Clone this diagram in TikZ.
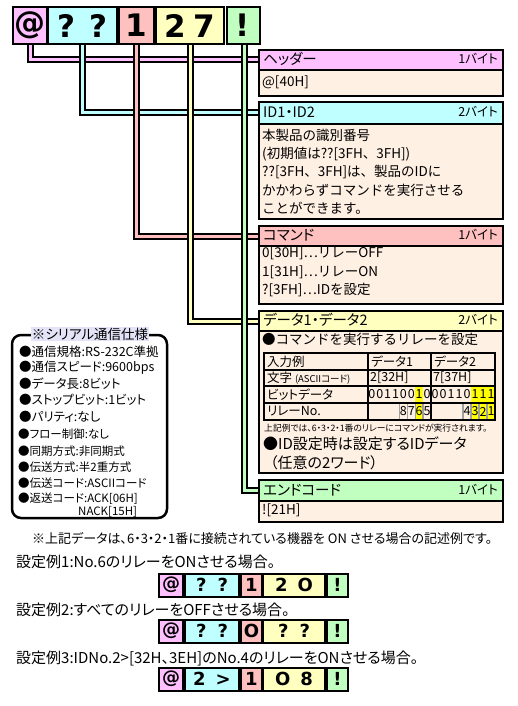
\documentclass[tikz,border=0pt]{standalone}
\usepackage{fontspec}
\setmainfont{Noto Sans CJK JP}
\newfontfamily\pfont{Noto Sans CJK JP}[RawFeature=+palt]
\newfontfamily\heavy{DejaVu Sans}[UprightFont={* Bold}]
\definecolor{cpink}{HTML}{FFC0FF}
\definecolor{ccyan}{HTML}{C0FFFF}
\definecolor{csalmon}{HTML}{FFC0C0}
\definecolor{cyel}{HTML}{FFFFC0}
\definecolor{cgreen}{HTML}{C0FFC0}
\definecolor{cbody}{HTML}{FFF0E4}
\definecolor{clav}{HTML}{E4E4F8}
\definecolor{chl}{HTML}{FFFF00}
\definecolor{cgray}{HTML}{A0A0A0}
\pgfdeclarelayer{bg}
\pgfsetlayers{bg,main}
\tikzset{
 tbox/.style={draw, line width=2pt, inner sep=0pt, minimum height=37pt, font=\heavy\fontsize{31}{31}\selectfont},
 ebox/.style={draw, line width=2pt, inner sep=0pt, minimum height=23pt, font=\heavy\fontsize{18}{18}\selectfont},
 band/.style={draw, line width=2pt, inner sep=0pt, anchor=north west, minimum width=244pt},
 ttl/.style={anchor=west, inner sep=0pt, font=\pfont\fontsize{14.5}{14.5}\selectfont},
 byt/.style={anchor=east, inner sep=0pt, font=\pfont\fontsize{12.5}{12.5}\selectfont},
 bod/.style={anchor=west, inner sep=0pt, font=\fontsize{13.5}{13.5}\selectfont},
 tab/.style={anchor=west, inner sep=0pt, font=\pfont\fontsize{12.5}{12.5}\selectfont},
 bit/.style={inner sep=0pt, font=\pfont\fontsize{12.5}{12.5}\selectfont},
 spec/.style={anchor=west, inner sep=0pt, font=\pfont\fontsize{12.5}{12.5}\selectfont},
 specs/.style={anchor=west, inner sep=0pt, font=\pfont\fontsize{11.5}{11.5}\selectfont},
 note/.style={anchor=west, inner sep=0pt, font=\pfont\fontsize{13}{13}\selectfont},
 exl/.style={anchor=west, inner sep=0pt, font=\pfont\fontsize{15}{15}\selectfont},
 pipeo/.style={line width=7pt, black, line join=miter},
 pipei/.style={line width=3pt, line join=miter},
}
\begin{document}
\begin{tikzpicture}[x=1pt,y=-1pt]
\begin{pgfonlayer}{bg}
\fill[white] (0,0) rectangle (517,706);
\end{pgfonlayer}
\useasboundingbox (0,0) rectangle (517,706);
% top command boxes
\node[tbox, fill=cpink, minimum width=34pt] (tA) at (30,25.5) {@};
\node[tbox, fill=ccyan, minimum width=69pt] (tB) at (82.5,25.5) {?\hspace{14pt}?};
\node[tbox, fill=csalmon, minimum width=35pt] (tC) at (136.5,25.5) {1};
\node[tbox, fill=cyel, minimum width=68pt] (tD) at (190,25.5) {2\hspace{7pt}7};
\node[tbox, fill=cgreen, minimum width=33pt] (tE) at (243,25.5) {!};
% right boxes
\node[band, fill=cbody, minimum height=26pt] (hB) at (258,69) {};
\node[band, fill=cpink, minimum height=20pt] (hT) at (258,49) {};
\node[band, fill=cbody, minimum height=95pt] (iB) at (258,123) {};
\node[band, fill=ccyan, minimum height=22pt] (iT) at (258,101) {};
\node[band, fill=cbody, minimum height=58pt] (cB) at (258,245) {};
\node[band, fill=csalmon, minimum height=20pt] (cT) at (258,225) {};
\node[band, fill=cbody, minimum height=142pt] (dB) at (258,330) {};
\node[band, fill=cyel, minimum height=20pt] (dT) at (258,310) {};
\node[band, fill=cbody, minimum height=21pt] (eB) at (258,500) {};
\node[band, fill=cgreen, minimum height=21pt] (eT) at (258,479) {};
% pipes
\begin{pgfonlayer}{bg}
\draw[pipeo] (tA.south) |- (hT.west); \draw[pipei, cpink] (tA.south) |- (hT.west);
\draw[pipeo] (tB.south) |- (iT.west); \draw[pipei, ccyan] (tB.south) |- (iT.west);
\draw[pipeo] (tC.south) |- (cT.west); \draw[pipei, csalmon] (tC.south) |- (cT.west);
\draw[pipeo] (tD.south) |- (dT.west); \draw[pipei, cyel] (tD.south) |- (dT.west);
\draw[pipeo] ([xshift=1pt]tE.south) |- (eT.west); \draw[pipei, cgreen] ([xshift=1pt]tE.south) |- (eT.west);
\end{pgfonlayer}
% header
\node[ttl] (hTt) at (263,59) {ヘッダー};
\node[byt] (hTb) at (498,59) {1バイト};
\node[bod] (hB1) at (262,82) {@[40H]};
% ID
\node[ttl] (iTt) at (263,112) {ID1・ID2};
\node[byt] (iTb) at (498,112) {2バイト};
\node[bod] (iB1) at (262,135) {本製品の識別番号};
\node[bod] (iB2) at (262,154) {(初期値は??[3FH、3FH])};
\node[bod] (iB3) at (262,172) {??[3FH、3FH]は、製品のIDに};
\node[bod] (iB4) at (262,190) {かかわらずコマンドを実行させる};
\node[bod] (iB5) at (262,208) {ことができます。};
% command
\node[ttl] (cTt) at (263,235) {コマンド};
\node[byt] (cTb) at (498,235) {1バイト};
\node[bod] (cB1) at (262,253) {0[30H]…リレーOFF};
\node[bod] (cB2) at (262,272) {1[31H]…リレーON};
\node[bod] (cB3) at (262,290) {?[3FH]…IDを設定};
% data
\node[ttl] (dTt) at (263,320) {データ1・データ2};
\node[byt] (dTb) at (498,320) {2バイト};
\node[bod] (dB1) at (262,339) {●コマンドを実行するリレーを設定};
% table highlights
\fill[chl] (415.25,386) rectangle (423.125,420);
\fill[chl] (471,386) rectangle (495,420);
\foreach \k in {4,5,6,7} {
  \draw[cgray, line width=1.5pt] ({368+\k*7.875},403) -- ++(0,17);
  \draw[cgray, line width=1.5pt] ({431+\k*8},403) -- ++(0,17);
}
\draw[line width=2pt] (264,353) rectangle (495,420);
\draw[line width=1.5pt] (264,370) -- (495,370) (264,386) -- (495,386) (264,403) -- (495,403);
\draw[line width=1.5pt] (368,353) -- (368,420) (431,353) -- (431,420);
\node[tab] (r1a) at (267,361.5) {入力例};
\node[tab] (r1b) at (371,361.5) {データ1};
\node[tab] (r1c) at (434,361.5) {データ2};
\node[tab] (r2a) at (267,378) {文字 {\fontsize{9.5}{9.5}\selectfont(ASCIIコード)}};
\node[tab] (r2b) at (370,378) {2[32H]};
\node[tab] (r2c) at (433,378) {7[37H]};
\node[tab] (r3a) at (267,394.5) {ビットデータ};
\node[tab] (r4a) at (267,411.5) {リレーNo.};
\foreach \d [count=\i from 0] in {0,0,1,1,0,0,1,0}
  \node[bit] (ba\i) at ({368+(\i+0.5)*7.875},394.5) {\d};
\foreach \d [count=\i from 0] in {0,0,1,1,0,1,1,1}
  \node[bit] (bb\i) at ({431+(\i+0.5)*8},394.5) {\d};
\foreach \d [count=\i from 4] in {8,7,6,5}
  \node[bit] (ra\i) at ({368+(\i+0.5)*7.875},411.5) {\d};
\foreach \d [count=\i from 4] in {4,3,2,1}
  \node[bit] (rb\i) at ({431+(\i+0.5)*8},411.5) {\d};
\node[anchor=west, inner sep=0pt, font=\pfont\fontsize{8.8}{8.8}\selectfont] (dNote) at (264,428) {上記例では、6・3・2・1番のリレーにコマンドが実行されます。};
\node[anchor=west, inner sep=0pt, font=\pfont\fontsize{15}{15}\selectfont] (dB2) at (263,444) {●ID設定時は設定するIDデータ};
\node[anchor=west, inner sep=0pt, font=\pfont\fontsize{15}{15}\selectfont] (dB3) at (270,463) {（任意の2ワード）};
% end code
\node[ttl] (eTt) at (263,490) {エンドコード};
\node[byt] (eTb) at (498,490) {1バイト};
\node[bod] (eB1) at (262,510.5) {![21H]};
% serial spec
\draw[line width=2.5pt, rounded corners=9pt] (12,335) rectangle (167,518);
\node[fill=clav, inner sep=1pt, font=\pfont\fontsize{13.5}{13.5}\selectfont] (specT) at (90,334) {※シリアル通信仕様};
\node[spec] (s1) at (19,352) {●通信規格:RS-232C準拠};
\node[spec] (s2) at (19,368) {●通信スピード:9600bps};
\node[spec] (s3) at (19,384) {●データ長:8ビット};
\node[spec] (s4) at (19,400) {●ストップビット:1ビット};
\node[spec] (s5) at (19,417) {●パリティ:なし};
\node[specs] (s6) at (18,434) {●フロー制御:なし};
\node[specs] (s7) at (18,451) {●同期方式:非同期式};
\node[specs] (s8) at (18,467) {●伝送方式:半2重方式};
\node[specs] (s9) at (18,483) {●伝送コード:ASCIIコード};
\node[specs] (s10) at (18,499) {●返送コード:ACK[06H]};
\node[specs] (s11) at (78,512) {NACK[15H]};
% examples
\node[note] (n0) at (32,539) {※上記データは、6・3・2・1番に接続されている機器を ON させる場合の記述例です。};
\node[exl] (x1) at (16,562) {設定例1:No.6のリレーをONさせる場合。};
\node[ebox, fill=cpink, minimum width=24pt] (x1a) at (171,585) {@};
\node[ebox, fill=ccyan, minimum width=54pt] (x1b) at (212,585) {?\hspace{11pt}?};
\node[ebox, fill=csalmon, minimum width=21pt] (x1c) at (251.5,585) {1};
\node[ebox, fill=cyel, minimum width=62pt] (x1d) at (294,585) {2\hspace{10pt}O};
\node[ebox, fill=cgreen, minimum width=21pt] (x1e) at (337.5,585) {!};
\node[exl] (x2) at (16,610) {設定例2:すべてのリレーをOFFさせる場合。};
\node[ebox, fill=cpink, minimum width=24pt] (x2a) at (171,631) {@};
\node[ebox, fill=ccyan, minimum width=54pt] (x2b) at (212,631) {?\hspace{11pt}?};
\node[ebox, fill=csalmon, minimum width=21pt] (x2c) at (251.5,631) {O};
\node[ebox, fill=cyel, minimum width=62pt] (x2d) at (294,631) {?\hspace{11pt}?};
\node[ebox, fill=cgreen, minimum width=21pt] (x2e) at (337.5,631) {!};
\node[exl] (x3) at (16,658) {設定例3:IDNo.2>[32H、3EH]のNo.4のリレーをONさせる場合。};
\node[ebox, fill=cpink, minimum width=24pt] (x3a) at (171,679) {@};
\node[ebox, fill=ccyan, minimum width=54pt] (x3b) at (212,679) {2\hspace{10pt}>};
\node[ebox, fill=csalmon, minimum width=21pt] (x3c) at (251.5,679) {1};
\node[ebox, fill=cyel, minimum width=62pt] (x3d) at (294,679) {O\hspace{10pt}8};
\node[ebox, fill=cgreen, minimum width=21pt] (x3e) at (337.5,679) {!};
\end{tikzpicture}
\end{document}
